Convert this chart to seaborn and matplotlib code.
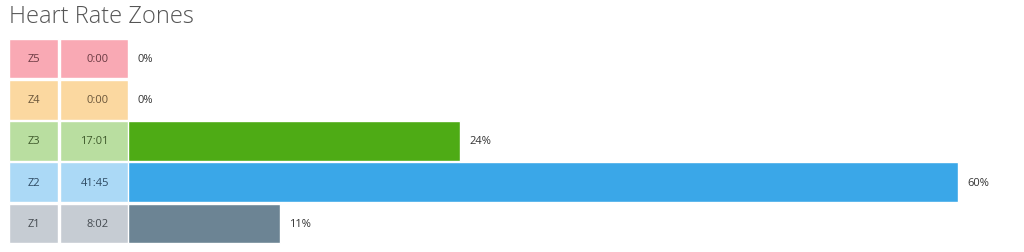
import matplotlib
matplotlib.use("Agg")
import matplotlib.pyplot as plt
import seaborn as sns
import pandas as pd

zones = ["Z5", "Z4", "Z3", "Z2", "Z1"]
times = ["0:00", "0:00", "17:01", "41:45", "8:02"]
percents = [0, 0, 24, 60, 11]
pct_labels = ["0%", "0%", "24%", "60%", "11%"]

cell_colors = ["#F9A9B4", "#FBD8A0", "#B9DEA0", "#ABD9F6", "#C6CCD3"]
text_colors = ["#6A3A42", "#6A563A", "#3F5A2C", "#2E4A62", "#444A50"]
bar_colors = ["#E8546A", "#F5A623", "#4EAB15", "#3AA7E8", "#6C8494"]

sns.set_theme(style="white")
plt.rcParams["font.family"] = ["Open Sans", "DejaVu Sans"]

W, H = 1024, 253
fig = plt.figure(figsize=(W / 100, H / 100), dpi=100)

top_px, bot_px = 39, 245
# bars axis
ax = fig.add_axes([128 / W, 1 - bot_px / H, (W - 128) / W, (bot_px - top_px) / H])
df = pd.DataFrame({"zone": zones, "pct": percents})
sns.barplot(data=df, y="zone", x="pct", hue="zone", palette=bar_colors, order=zones,
            hue_order=zones, orient="h", width=0.96, ax=ax, legend=False, saturation=1)
scale = 830 / 60.0
ax.set_xlim(0, (W - 128) / scale)
ax.set_ylim(4.5, -0.5)
ax.axis("off")
for i, (p, lab) in enumerate(zip(percents, pct_labels)):
    ax.text(p + 9 / scale, i, lab, va="center", ha="left", fontsize=8, color="#333333")

# table axis
tx = fig.add_axes([9 / W, 1 - bot_px / H, (128 - 9) / W, (bot_px - top_px) / H])
tx.set_xlim(0, 119)
tx.set_ylim(4.5, -0.5)
tx.axis("off")
ypos = list(range(len(zones)))
tx.barh(ypos, [49] * 5, left=0, height=0.96, color=cell_colors)
tx.barh(ypos, [68] * 5, left=51, height=0.96, color=cell_colors)
for i, (z, t) in enumerate(zip(zones, times)):
    tx.text(24.5, i, z, ha="center", va="center", fontsize=8, color=text_colors[i])
    tx.text(100, i, t, ha="right", va="center", fontsize=8, color=text_colors[i])

fig.text(9 / W, 1 - 17 / H, "Heart Rate Zones", fontsize=17, fontweight="light",
         color="#555555", ha="left", va="center")

fig.savefig("out.png", dpi=100)
